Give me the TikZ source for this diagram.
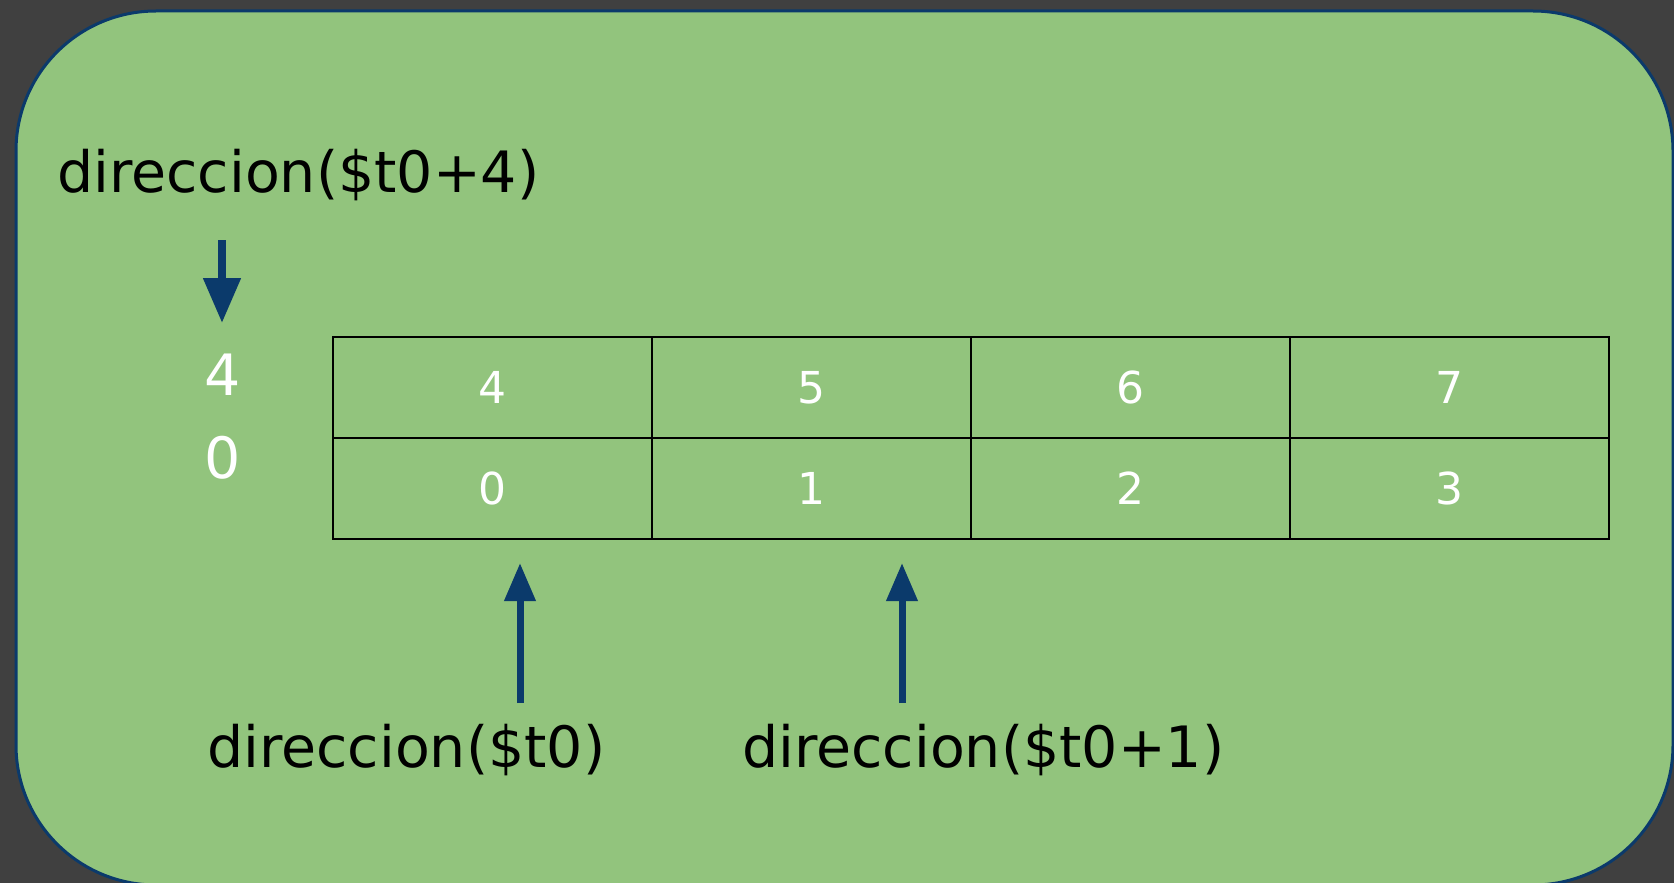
\documentclass[tikz,border=0pt]{standalone}
\usepackage{fontspec}
\setmainfont{DejaVu Sans}
\usetikzlibrary{arrows.meta}
\definecolor{bgdark}{HTML}{404040}
\definecolor{boxgreen}{HTML}{92C47D}
\definecolor{navy}{HTML}{0B3A6B}
\tikzset{
  x=1pt, y=-1pt,
  panel/.style={fill=boxgreen, draw=navy, line width=3pt, rounded corners=140pt},
  cell/.style={draw=black, line width=2pt, minimum width=319pt, minimum height=101pt, inner sep=0pt, text=white, font=\fontsize{44}{52}\selectfont},
  lbl/.style={inner sep=0pt, text=black, font=\fontsize{57}{68}\selectfont, anchor=base west},
  idx/.style={inner sep=0pt, text=white, font=\fontsize{57}{68}\selectfont, anchor=base},
  ptr/.style={draw=navy, line width=7pt, -{Triangle[width=30pt,length=38pt]}},
  ptrbig/.style={draw=navy, line width=8pt, -{Triangle[width=36pt,length=45pt]}}
}
\begin{document}
\begin{tikzpicture}
\useasboundingbox (0,0) rectangle (1674,883);
\fill[bgdark] (0,0) rectangle (1674,883);
\begin{scope}
\clip (0,0) rectangle (1674,883);
\path[panel] (16,11) rectangle (1673,885);
\end{scope}
% table
\node[cell] (c4) at (492.5,387.5) {4};
\node[cell] (c5) at (811.5,387.5) {5};
\node[cell] (c6) at (1130.5,387.5) {6};
\node[cell] (c7) at (1449.5,387.5) {7};
\node[cell] (c0) at (492.5,488.5) {0};
\node[cell] (c1) at (811.5,488.5) {1};
\node[cell] (c2) at (1130.5,488.5) {2};
\node[cell] (c3) at (1449.5,488.5) {3};
% left index labels
\node[idx] (l4) at (223,395) {4};
\node[idx] (l0) at (223,478) {0};
% labels
\node[lbl] (top) at (57,192) {direccion(\$t0+4)};
\node[lbl] (b0) at (207,767) {direccion(\$t0)};
\node[lbl] (b1) at (742,767) {direccion(\$t0+1)};
% arrows
\coordinate (ta) at (222,240);
\coordinate (tb) at (222,323);
\draw[ptrbig] (ta) -- (tb);
\coordinate (a0s) at (520,703);
\coordinate (a0e) at (520,563);
\draw[ptr] (a0s) -- (a0e);
\coordinate (a1s) at (902,703);
\coordinate (a1e) at (902,563);
\draw[ptr] (a1s) -- (a1e);
\end{tikzpicture}
\end{document}
